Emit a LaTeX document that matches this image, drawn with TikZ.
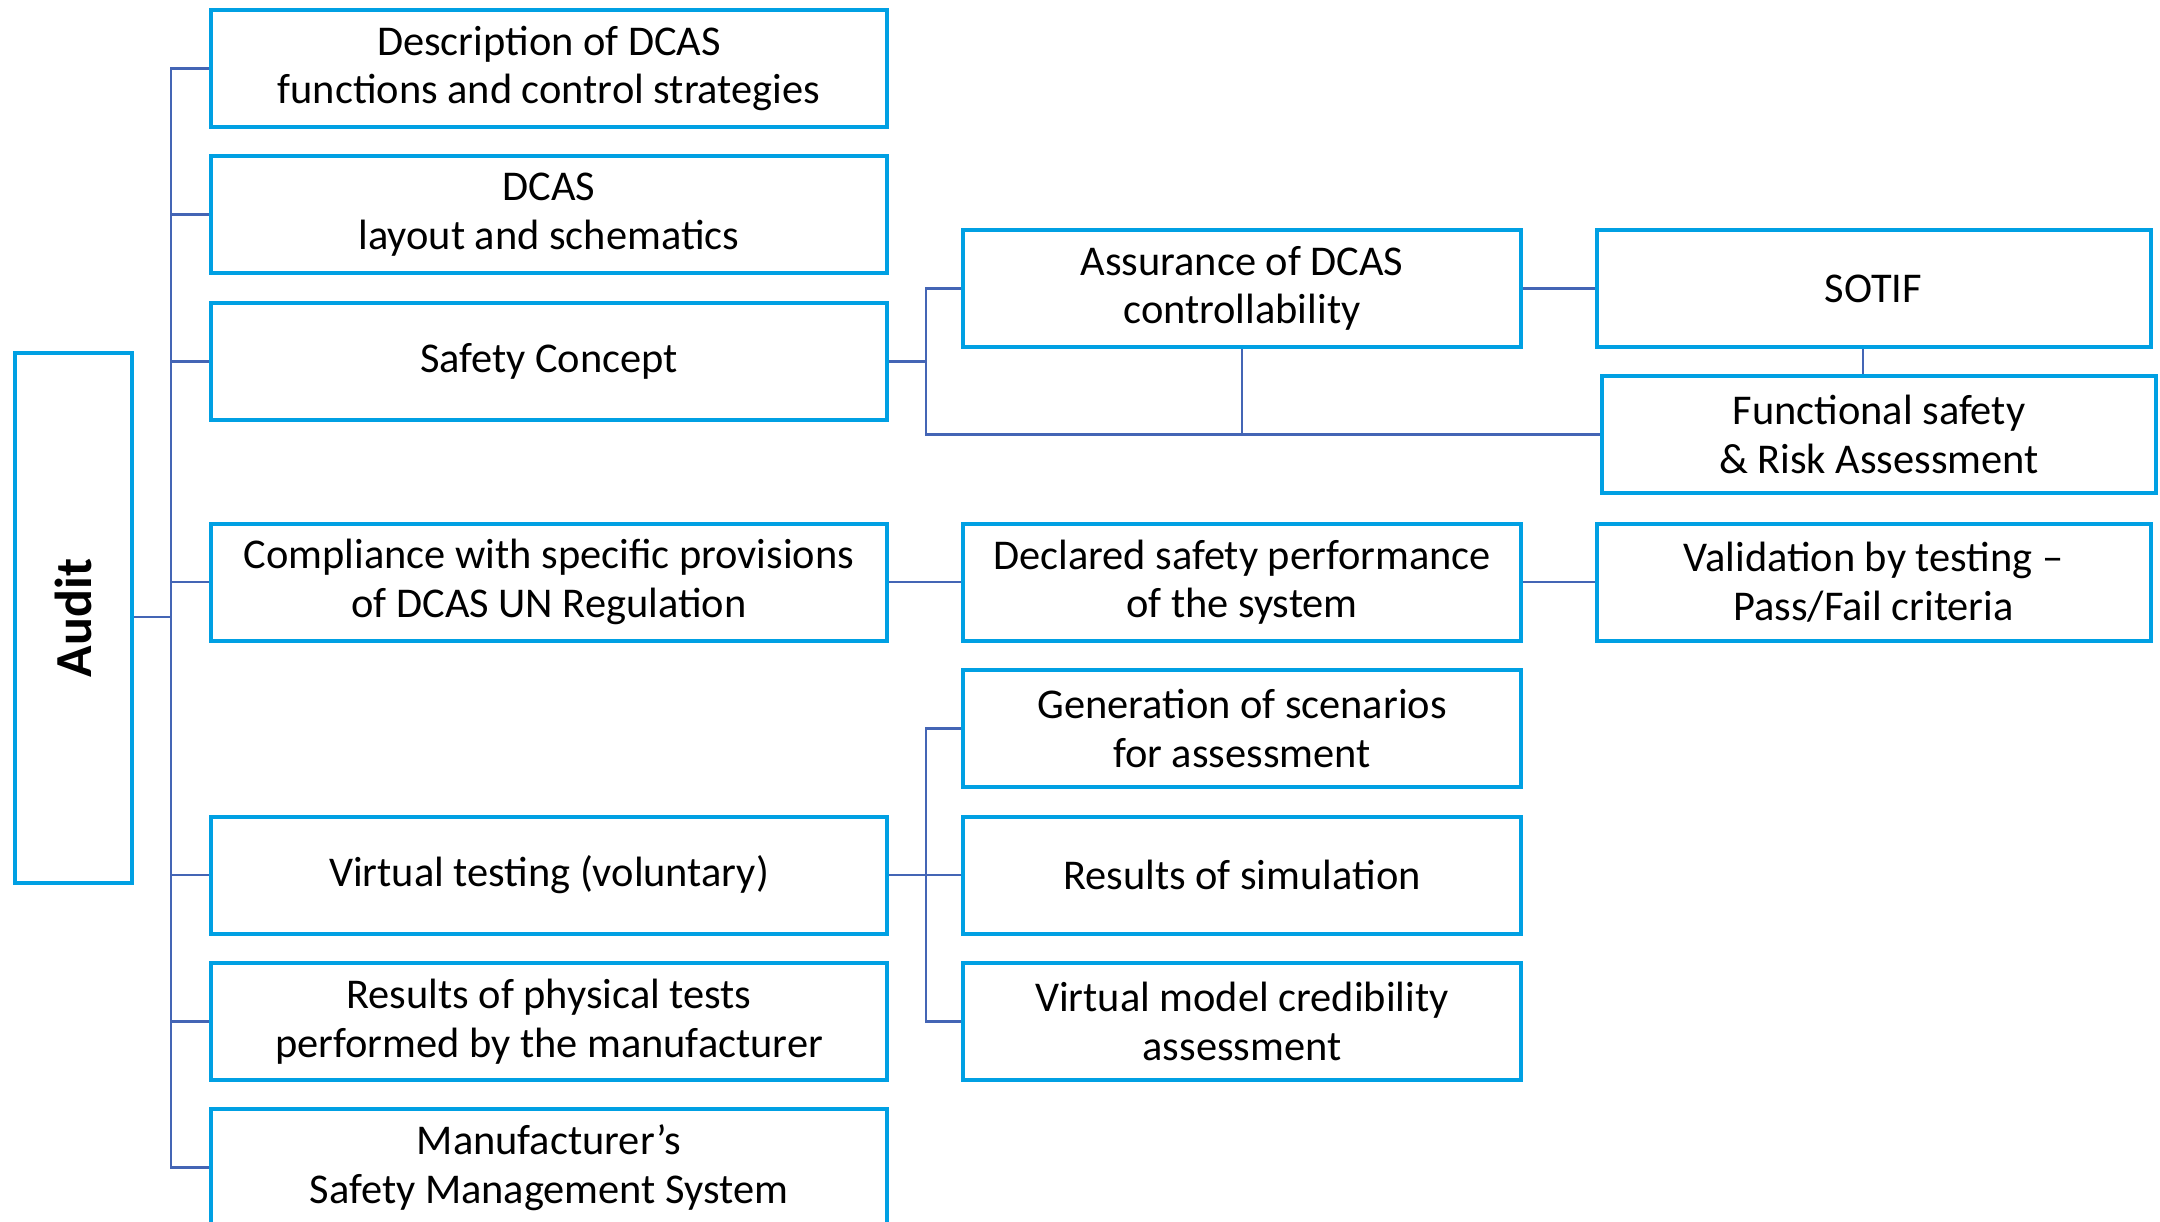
\documentclass[tikz,border=0pt]{standalone}
\usepackage{fontspec}
\setmainfont{Carlito}
\definecolor{boxblue}{RGB}{0,160,227}
\definecolor{linkblue}{RGB}{68,101,181}
\begin{document}
\begin{tikzpicture}[x=0.5pt,y=-0.5pt,
  box/.style={draw=boxblue,line width=2pt,fill=white,align=center,inner sep=2pt,
    font=\fontsize{21.2}{24.2}\selectfont,minimum height=58.5pt},
  lbox/.style={box,minimum width=338pt},
  mbox/.style={box,minimum width=279pt},
  rbox/.style={box,minimum width=277pt},
  conn/.style={draw=linkblue,line width=1.2pt}]
\useasboundingbox (0,0) rectangle (2160,1222);
\clip (0,0) rectangle (2160,1222);
% coordinates for bus lines
\coordinate (trunk) at (171,0);
\coordinate (b1) at (926,0);
\coordinate (b2) at (926,0);
% left column
\node[lbox] (d1) at (549,68.5) {Description of DCAS\\functions and control strategies};
\node[lbox] (d2) at (549,214.5) {DCAS\\layout and schematics};
\node[lbox] (d3) at (549,361.5) {Safety Concept};
\node[lbox] (d4) at (549,582) {Compliance with specific provisions\\of DCAS UN Regulation};
\node[lbox] (d5) at (549,875) {Virtual testing (voluntary)};
\node[lbox] (d6) at (549,1021.5) {Results of physical tests\\performed by the manufacturer};
\node[lbox] (d7) at (549,1167.5) {Manufacturer’s\\Safety Management System};
% audit
\node[draw=boxblue,line width=2pt,minimum width=58.5pt,minimum height=265pt] (audit) at (73.5,618) {};
\node[rotate=90,font=\fontsize{26}{30}\selectfont\bfseries] (audittxt) at (audit.center) {Audit};
% middle column
\node[mbox] (assur) at (1242,288.5) {Assurance of DCAS\\controllability};
\node[mbox] (decl) at (1242,582) {Declared safety performance\\of the system};
\node[mbox] (gen) at (1242,728.5) {Generation of scenarios\\for assessment};
\node[mbox] (sim) at (1242,875) {Results of simulation};
\node[mbox] (vmc) at (1242,1021.5) {Virtual model credibility\\assessment};
% right column
\node[rbox] (sotif) at (1873.5,288.5) {SOTIF};
\node[rbox] (fs) at (1879,434.5) {Functional safety\\\& Risk Assessment};
\node[rbox] (val) at (1873.5,582) {Validation by testing –\\Pass/Fail criteria};
% connectors
\draw[conn] (audit.east |- 0,617) -- (trunk |- 0,617);
\draw[conn] (d1.west) -| (trunk |- d7.west) -- (d7.west);
\foreach \n in {d2,d3,d4,d5,d6}{\draw[conn] (\n.west) -- (trunk |- \n.west);}
\draw[conn] (d3.east) -- (b1 |- d3.east);
\draw[conn] (assur.west) -| (b1 |- fs.west) -- (fs.west);
\draw[conn] (assur.south) -- (assur.south |- fs.west);
\draw[conn] (assur.east) -- (sotif.west);
\draw[conn] (sotif.south -| 1863,0) -- (fs.north -| 1863,0);
\draw[conn] (d4.east) -- (decl.west);
\draw[conn] (decl.east) -- (val.west);
\draw[conn] (d5.east) -- (b2 |- d5.east);
\draw[conn] (gen.west) -| (b2 |- vmc.west) -- (vmc.west);
\draw[conn] (sim.west) -- (b2 |- sim.west);
\end{tikzpicture}
\end{document}
